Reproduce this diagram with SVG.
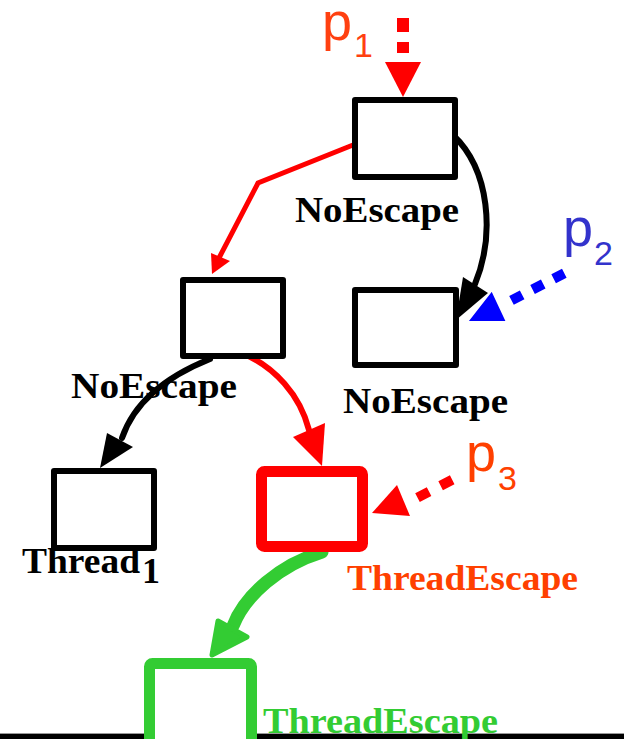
<svg xmlns="http://www.w3.org/2000/svg" width="624" height="739" viewBox="0 0 624 739">
  <style>
    .box { fill: #fff; stroke: #000; stroke-width: 6; stroke-linejoin: round; }
    .lbl { font-family: "Liberation Serif", "Times New Roman", serif; font-weight: bold; font-size: 36px; fill: #000; }
    .ptr { font-family: "Liberation Sans", Arial, sans-serif; font-size: 54px; }
    .sub { font-family: "Liberation Sans", Arial, sans-serif; font-size: 34px; }
    .edge { fill: none; stroke-linecap: round; }
  </style>

  <!-- ruler line along the bottom edge -->
  <rect x="0" y="733" width="624" height="1" fill="#999"/>
  <rect x="0" y="734" width="624" height="5" fill="#000"/>

  <g id="connectors">
    <!-- top node -> left child (red, bent) -->
    <polyline class="edge" points="353,145 258,183 219,258" stroke="#f00" stroke-width="5"/>
    <polygon points="211,253 230,261 212,274" fill="#f00"/>
    <!-- top node -> right child (black curve) -->
    <path class="edge" d="M453,135 C490,170 495,235 475,284" stroke="#000" stroke-width="6"/>
    <polygon points="463,277 488,293 456,320" fill="#000"/>
    <!-- left child -> Thread1 -->
    <path class="edge" d="M210,359 C170,375 135,400 122,438" stroke="#000" stroke-width="6"/>
    <polygon points="107,433 133,447 100,468" fill="#000"/>
    <!-- left child -> escaping node (red curve) -->
    <path class="edge" d="M242,353 C275,367 300,395 309,430" stroke="#f00" stroke-width="6"/>
    <polygon points="293,437 325,423 322,466" fill="#f00"/>
    <!-- escaping node -> thread-escape node (green) -->
    <path class="edge" d="M322,552 C280,565 245,595 233,626" stroke="#3c3" stroke-width="13"/>
    <polygon points="218,621 247,637 212,655" fill="#3c3" stroke="#3c3" stroke-width="5" stroke-linejoin="round"/>
  </g>

  <g id="pointer-p1">
    <text class="ptr" x="322" y="40" fill="#ff4010">p</text>
    <text class="sub" x="354" y="57" fill="#ff4010">1</text>
    <line x1="403" y1="18" x2="403" y2="53" stroke="#f00" stroke-width="12" stroke-dasharray="14 10"/>
    <polygon points="385,62 421,62 403,97" fill="#f00"/>
  </g>

  <g id="pointer-p2">
    <text class="ptr" x="563" y="246" fill="#3333cc">p</text>
    <text class="sub" x="594" y="265" fill="#3333cc">2</text>
    <line x1="564.3" y1="273.2" x2="510.7" y2="300.8" stroke="#00f" stroke-width="10" stroke-dasharray="12 11.7"/>
    <polygon points="467,322 507,322 492,290" fill="#00f" stroke="#fff" stroke-width="2" stroke-linejoin="round"/>
  </g>

  <g id="pointer-p3">
    <text class="ptr" x="466" y="471" fill="#ff4000">p</text>
    <text class="sub" x="498" y="490" fill="#ff4000">3</text>
    <line x1="452.2" y1="479.8" x2="416.3" y2="498.2" stroke="#f00" stroke-width="10" stroke-dasharray="13 13"/>
    <polygon points="372,513 397,485 410,516" fill="#f00"/>
  </g>

  <g id="node-root">
    <rect class="box" x="355" y="100" width="100" height="77"/>
    <text class="lbl" x="295" y="222" textLength="164" lengthAdjust="spacingAndGlyphs">NoEscape</text>
  </g>

  <g id="node-left">
    <rect class="box" x="183" y="280" width="100" height="76"/>
    <text class="lbl" x="71" y="398" textLength="166" lengthAdjust="spacingAndGlyphs">NoEscape</text>
  </g>

  <g id="node-right">
    <rect class="box" x="355" y="290" width="101" height="75"/>
    <text class="lbl" x="343" y="413" textLength="165" lengthAdjust="spacingAndGlyphs">NoEscape</text>
  </g>

  <g id="node-thread1">
    <rect class="box" x="54" y="471" width="100" height="77"/>
    <text class="lbl" x="22" y="573" textLength="118" lengthAdjust="spacingAndGlyphs">Thread</text>
    <text class="lbl" x="142" y="583" font-size="22">1</text>
  </g>

  <g id="node-escape">
    <rect x="261.5" y="471.5" width="101" height="75" rx="3" fill="#fff" stroke="#f00" stroke-width="11"/>
    <text class="lbl" x="347" y="590" fill="#ff4000" style="fill:#ff4000" textLength="231" lengthAdjust="spacingAndGlyphs">ThreadEscape</text>
  </g>

  <g id="node-thread-escape">
    <rect x="149.5" y="663.5" width="102" height="85" rx="3" fill="#fff" stroke="#3c3" stroke-width="11"/>
    <text class="lbl" x="263" y="733" style="fill:#3c3" textLength="235" lengthAdjust="spacingAndGlyphs">ThreadEscape</text>
  </g>
</svg>
